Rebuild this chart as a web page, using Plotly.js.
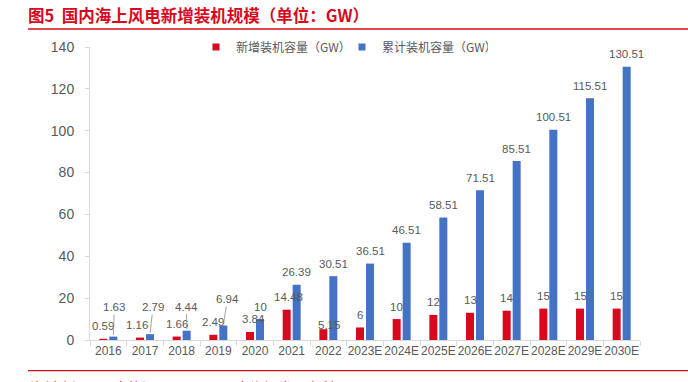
<!DOCTYPE html>
<html>
<head>
<meta charset="utf-8">
<script src="https://cdn.plot.ly/plotly-3.0.1.min.js"></script>
<style>html,body{margin:0;padding:0;background:#fff;}#chart{width:688px;height:382px;}</style>
</head>
<body>
<div id="chart"></div>
<script>
// ---- data ----
const years = ['2016','2017','2018','2019','2020','2021','2022','2023E','2024E','2025E','2026E','2027E','2028E','2029E','2030E'];
const newCap = [0.59,1.16,1.66,2.49,3.84,14.48,5.15,6,10,12,13,14,15,15,15];
const cumCap = [1.63,2.79,4.44,6.94,10,26.39,30.51,36.51,46.51,58.51,71.51,85.51,100.51,115.51,130.51];
const yTicks = [0,20,40,60,80,100,120,140];
const seriesNames = ['新增装机容量（GW）','累计装机容量（GW）'];
const titleText = '图5  国内海上风电新增装机规模（单位：GW）';
const sourceText = '资料来源：国家能源局，CWEC，东海证券研究所';

// ---- styles ----
const RED = '#d7091e', BLUE = '#4472c4', GRAY = '#595959', AX = '#d9d9d9';
const NUMFONT = 'Liberation Sans, Arial, Noto Sans CJK SC, sans-serif';
const CJKFONT = 'Noto Sans CJK SC, Liberation Sans, sans-serif';
// label tweaks (pixels): [dx, dy]
const newLabelTweak = {1:[-3,12.5], 4:[3,12.5], 5:[2,12.5], 6:[6,4]};
const cumLeader = {0:[1,-29.5], 1:[3,-27], 2:[0,-24], 3:[4,-26.5]};

const traces = [
  {type:'bar', x:years, y:newCap, name:seriesNames[0], marker:{color:RED}, showlegend:false, hoverinfo:'none'},
  {type:'bar', x:years, y:cumCap, name:seriesNames[1], marker:{color:BLUE}, showlegend:false, hoverinfo:'none'},
  {type:'scatter', mode:'markers', x:[null], y:[null], name:seriesNames[0], marker:{symbol:'square', size:7, color:RED}},
  {type:'scatter', mode:'markers', x:[null], y:[null], name:seriesNames[1], marker:{symbol:'square', size:7, color:BLUE}}
];

const annotations = [];
years.forEach((yr, i) => {
  // category axis: annotation x given as category index
  const t = newLabelTweak[i] || [0, 12.5];
  annotations.push({x:i, y:newCap[i], xref:'x', yref:'y', text:String(newCap[i]), showarrow:false,
    xshift:-5 + t[0], yshift:t[1], yanchor:'middle', font:{family:NUMFONT, size:11.5, color:GRAY}});
  if (cumLeader[i]) {
    const l = cumLeader[i];
    annotations.push({x:i, y:cumCap[i], xref:'x', yref:'y', text:String(cumCap[i]), showarrow:true,
      arrowhead:0, arrowwidth:0.8, arrowcolor:'#8c8c8c', standoff:1.5, ax:l[0], ay:l[1], xshift:5,
      font:{family:NUMFONT, size:11.5, color:GRAY}});
  } else {
    annotations.push({x:i, y:cumCap[i], xref:'x', yref:'y', text:String(cumCap[i]), showarrow:false,
      xshift:5, yshift:12.5, yanchor:'middle', font:{family:NUMFONT, size:11.5, color:GRAY}});
  }
});
annotations.push({xref:'paper', yref:'paper', x:-0.1127, y:-0.1195, xanchor:'left', yanchor:'top',
  text:sourceText, showarrow:false, font:{family:CJKFONT, size:14, color:RED}});

const layout = {
  width:688, height:382,
  margin:{l:90, r:48, t:47, b:42},
  paper_bgcolor:'#fff', plot_bgcolor:'#fff',
  title:{text:'<b>'+titleText+'</b>', xref:'container', x:28/688, xanchor:'left', yref:'container', y:1-16/382, yanchor:'middle',
    font:{family:CJKFONT, size:16.5, color:RED}},
  barmode:'group', bargap:0.4545, bargroupgap:0.2,
  xaxis:{type:'category', range:[-0.5, years.length-0.5], autorange:false, showgrid:false, showline:true, linecolor:AX, linewidth:1,
    ticks:'outside', tickson:'boundaries', ticklen:5, tickcolor:AX, tickangle:0,
    tickfont:{family:NUMFONT, size:12, color:GRAY}, zeroline:false, fixedrange:true},
  yaxis:{range:[0,140], autorange:false, tickvals:yTicks, showgrid:false, showline:true, linecolor:AX, linewidth:1,
    ticks:'outside', ticklen:4, tickcolor:AX, ticklabelstandoff:8,
    tickfont:{family:NUMFONT, size:14, color:GRAY}, zeroline:false, fixedrange:true},
  legend:{orientation:'h', x:(196-90)/550, xanchor:'left', y:1.0, yanchor:'middle',
    font:{family:CJKFONT, size:12, color:GRAY}, itemwidth:30, entrywidth:101, entrywidthmode:'pixels', bgcolor:'rgba(0,0,0,0)'},
  shapes:[
    {type:'line', xref:'paper', yref:'paper', x0:-0.1127, x1:1.09, y0:1.0614, y1:1.0614, line:{color:RED, width:1.5}},
    {type:'line', xref:'paper', yref:'paper', x0:-0.1127, x1:1.09, y0:-0.1048, y1:-0.1048, line:{color:RED, width:1.2}}
  ],
  annotations:annotations,
  showlegend:true
};

Plotly.newPlot('chart', traces, layout, {displayModeBar:false, staticPlot:true});
</script>
</body>
</html>
